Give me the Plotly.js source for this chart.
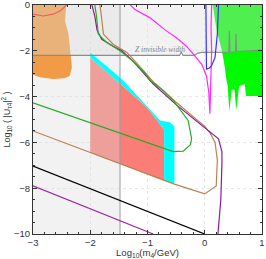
<!DOCTYPE html>
<html>
<head>
<meta charset="utf-8">
<script src="https://cdn.plot.ly/plotly-3.0.1.min.js"></script>
<style>html,body{margin:0;padding:0;background:#fff;}#chart{width:266px;height:259px;}</style>
</head>
<body>
<div id="chart"></div>
<script>
// ---- data (log10 m4/GeV , log10 |U|^2) ----
var xTicks = [-3, -2, -1, 0, 1];
var yTicks = [0, -2, -4, -6, -8, -10];
var xTickLabels = ["\u22123", "\u22122", "\u22121", "0", "1"];
var yTickLabels = ["0", "\u22122", "\u22124", "\u22126", "\u22128", "\u221210"];

var redX = [-2, -1.48, -1.01, -0.71, -0.71, -2];
var redY = [-2.29, -3.45, -4.47, -5.45, -7.68, -6.45];

var cyanX = [-2, -1.45, -0.78, -0.61, -0.53, -0.53, -0.71, -0.71, -1.01, -1.48, -2];
var cyanY = [-2.07, -3.23, -5.04, -5.12, -5.3, -7.8, -7.68, -5.45, -4.47, -3.45, -2.29];

var leftBandX = [-3, -1.48, -1.48, -3];
var leftBandY = [0, 0, -10, -10];

var orangeX = [-3, -2.42, -2.44, -2.38, -2.35, -2.32, -2.36, -2.45, -2.65, -2.88, -3];
var orangeY = [0, 0, -0.7, -1.27, -2.0, -2.72, -3.1, -3.2, -3.23, -3.16, -3.05];

var greenRegX = [0.14, 1, 1, 0.72, 0.7, 0.6, 0.55, 0.52, 0.47, 0.43, 0.4, 0.38, 0.35, 0.3, 0.21, 0.14];
var greenRegY = [0, 0, -3.97, -3.97, -3.45, -3.55, -4.6, -3.7, -3.7, -4.65, -3.5, -3.3, -2.72, -2.0, -1.13, 0];

var zX = [-3, -0.44, -0.41, -0.38, -0.18, -0.12, -0.05, 0.42, 0.43, 0.44, 0.535, 0.545, 0.555, 1];
var zY = [-2.2, -2.2, -2.05, -2.2, -2.2, -2.1, -2.07, -2.06, -1.13, -2.05, -2.04, -1.27, -2.03, -1.97];

var redLineX = [-3, -2.82, -2.65, -2.53, -2.41];
var redLineY = [-0.4, -0.48, -0.4, -0.26, 0];

var brownX = [-3, -2, -0.71, -0.53, 0, 0.03, 0.2, 0.22, 0.18, 0.1, 0.0, -0.5, -0.9, -1.25, -1.36, -1.6, -1.77, -1.8, -1.83];
var brownY = [-5.5, -6.45, -7.68, -7.82, -8.25, -8.2, -7.9, -6.78, -6.0, -5.62, -5.3, -4.25, -3.35, -2.36, -2.07, -1.71, -1.27, -0.6, 0];

var purpleX = [-1.97, -1.92, -1.88, -1.8, -1.6, -1.45, -1.26, -0.9, -0.5, 0.0, 0.24, 0.3, 0.3, 0.28, 0.23];
var purpleY = [0, -0.5, -1.1, -1.5, -1.8, -2.0, -2.43, -3.45, -4.35, -5.35, -5.84, -6.4, -6.93, -8.52, -10];

var purple2X = [-3, -0.9];
var purple2Y = [-7.9, -10];

var blackX = [-3, 0];
var blackY = [-7.03, -10];

var greenX = [-3, -2, -1.25, -0.8, -0.55, -0.375, -0.25, -0.23, -0.29, -0.55, -0.72, -0.95, -1.05, -1.28, -1.48, -1.71, -1.86, -1.89, -1.92];
var greenY = [-4.27, -5.15, -5.8, -6.2, -6.4, -6.38, -6.1, -5.84, -5.04, -4.17, -3.74, -3.3, -2.95, -2.4, -2.0, -1.64, -1.27, -0.5, 0];

var magentaX = [-1.3, -1.22, -0.96, -0.67, -0.5, -0.32, -0.18, -0.05, 0.03, 0.07, 0.09, 0.11, 0.12, 0.11, 0.12];
var magentaY = [0, -0.2, -0.55, -1.13, -1.42, -1.8, -2.2, -2.6, -3.1, -3.8, -4.75, -3.3, -2.0, -1.0, 0];

var blueX = [0.02, 0.02, 0.03, 0.08, 0.12, 0.18, 0.22, 0.24];
var blueY = [0, -2.5, -2.8, -2.75, -2.65, -2.29, -1.27, 0];

var vLineX = [-1.48, -1.48];
var vLineY = [0, -10];

var zLabel = "Z invisible width";
var zLabelPos = [-1.25, -1.95];

// overlay above Z line, built from the Z line
var zOverX = zX.concat([1, -3]);
var zOverY = zY.concat([0, 0]);

var overlay = 'rgba(220,220,220,0.36)';

function poly(x, y, color) {
  return {x: x, y: y, type: 'scatter', mode: 'lines', fill: 'toself', fillcolor: color,
          line: {width: 0, color: color}, hoverinfo: 'skip', showlegend: false};
}
function line(x, y, color, w) {
  return {x: x, y: y, type: 'scatter', mode: 'lines', line: {color: color, width: w || 1.2},
          hoverinfo: 'skip', showlegend: false};
}

var traces = [
  poly(redX, redY, 'rgb(250,125,120)'),
  poly(leftBandX, leftBandY, overlay),
  poly(cyanX, cyanY, 'rgb(0,255,255)'),
  poly(orangeX, orangeY, 'rgb(242,155,70)'),
  poly(greenRegX, greenRegY, 'rgb(0,250,0)'),
  poly(zOverX, zOverY, overlay),
  line(vLineX, vLineY, '#9a9a9a', 1),
  line(zX, zY, '#8c8c8c', 1.1),
  line(redLineX, redLineY, 'rgb(235,95,95)', 1.1),
  line(brownX, brownY, 'rgb(185,130,80)', 1.2),
  line(purpleX, purpleY, 'rgb(140,30,150)', 1.2),
  line(purple2X, purple2Y, 'rgb(160,40,170)', 1.2),
  line(greenX, greenY, 'rgb(40,170,40)', 1.2),
  line(blackX, blackY, '#000', 1.3),
  line(magentaX, magentaY, 'rgb(255,40,255)', 1.2),
  line(blueX, blueY, 'rgb(50,50,255)', 1.2)
];

var axisCommon = {
  showline: true, mirror: 'allticks', linecolor: '#333', linewidth: 1,
  ticks: 'inside', ticklen: 4, tickcolor: '#333', tickwidth: 1,
  showgrid: true, gridcolor: '#d8d8d8', griddash: 'dot', gridwidth: 0.6,
  zeroline: false, tickfont: {family: 'Liberation Sans, Arial, sans-serif', size: 9.5, color: '#333'},
  tickmode: 'array', automargin: false, ticklabeloverflow: 'allow'
};

var layout = {
  width: 266, height: 259,
  margin: {l: 33, r: 4, t: 5, b: 25},
  paper_bgcolor: '#fff', plot_bgcolor: '#fff',
  showlegend: false,
  xaxis: Object.assign({}, axisCommon, {
    range: [-3, 1], tickvals: xTicks, ticktext: xTickLabels,
    minor: {dtick: 0.2, ticks: 'inside', ticklen: 2, tickcolor: '#333', showgrid: false},
    title: {text: 'Log<sub>10</sub>(m<sub>4</sub>/GeV)', standoff: 2,
            font: {family: 'Liberation Sans, Arial, sans-serif', size: 9.5, color: '#333'}}
  }),
  yaxis: Object.assign({}, axisCommon, {
    range: [-10, 0], tickvals: yTicks, ticktext: yTickLabels,
    minor: {dtick: 0.5, ticks: 'inside', ticklen: 2, tickcolor: '#333', showgrid: false},
    title: {text: 'Log<sub>10</sub> ( |U<sub>\u03c44</sub>|<sup>2</sup> )', standoff: 4,
            font: {family: 'Liberation Sans, Arial, sans-serif', size: 9, color: '#333'}}
  }),
  annotations: [{
    x: zLabelPos[0], y: zLabelPos[1], xref: 'x', yref: 'y', text: zLabel, showarrow: false,
    xanchor: 'left', yanchor: 'middle',
    font: {family: 'Liberation Serif, DejaVu Serif, serif', size: 7.5, color: '#888', style: 'italic'}
  }]
};

Plotly.newPlot('chart', traces, layout, {staticPlot: true, displayModeBar: false});
</script>
</body>
</html>
